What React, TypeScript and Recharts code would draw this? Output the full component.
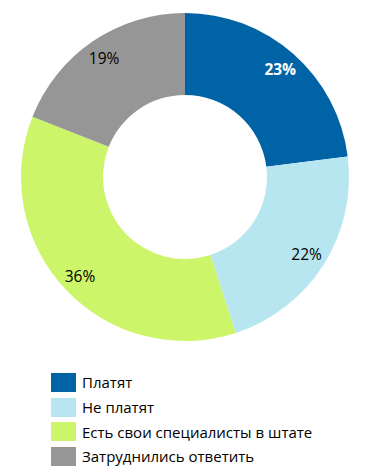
import React from 'react';
import { PieChart, Pie, Cell, Legend } from 'recharts';

const categories = ['Платят', 'Не платят', 'Есть свои специалисты в штате', 'Затруднились ответить'];
const shares = [23, 22, 36, 19];
const colors = ['#0063A6', '#B8E6F0', '#CCF56A', '#969696'];
const labelColors = ['#FFFFFF', '#000000', '#000000', '#000000'];

const data = categories.map((name, i) => ({ name, value: shares[i] }));

const RADIAN = Math.PI / 180;
const FONT = '"Open Sans", "DejaVu Sans", sans-serif';

const renderLabel = (props: any) => {
    const { cx, cy, midAngle, index, value } = props;
    const r = 144;
    const x = cx + r * Math.cos(-midAngle * RADIAN);
    const y = cy + r * Math.sin(-midAngle * RADIAN);
    return (
        <text x={x} y={y} fill={labelColors[index]} textAnchor="middle" dominantBaseline="central"
            fontSize={15.5} fontWeight={index === 0 ? 700 : 400} fontFamily={FONT}>
            {`${value}%`}
        </text>
    );
};

// legend with square swatches, one row per category
const renderLegend = () => (
    <div style={{ fontFamily: FONT, fontSize: 15, color: '#000' }}>
        {data.map((d, i) => (
            <div key={d.name} style={{ display: 'flex', alignItems: 'center', height: 24.7 }}>
                <span style={{ width: 25, height: 19, background: colors[i], marginRight: 6, display: 'inline-block' }} />
                <span>{d.name}</span>
            </div>
        ))}
    </div>
);

export default function App() {
    return (
        <div style={{ position: 'absolute', left: 0, top: 0, background: '#fff' }}>
            <PieChart width={374} height={475} margin={{ top: 0, right: 0, bottom: 0, left: 0 }}>
                <Pie
                    data={data}
                    dataKey="value"
                    nameKey="name"
                    cx={185}
                    cy={177}
                    innerRadius={82}
                    outerRadius={164}
                    startAngle={90}
                    endAngle={-270}
                    stroke="none"
                    label={renderLabel}
                    labelLine={false}
                    isAnimationActive={false}
                >
                    {data.map((d, i) => (
                        <Cell key={d.name} fill={colors[i]} />
                    ))}
                </Pie>
                <Legend
                    content={renderLegend}
                    wrapperStyle={{ position: 'absolute', left: 51, top: 370, width: 320 }}
                />
            </PieChart>
        </div>
    );
}
